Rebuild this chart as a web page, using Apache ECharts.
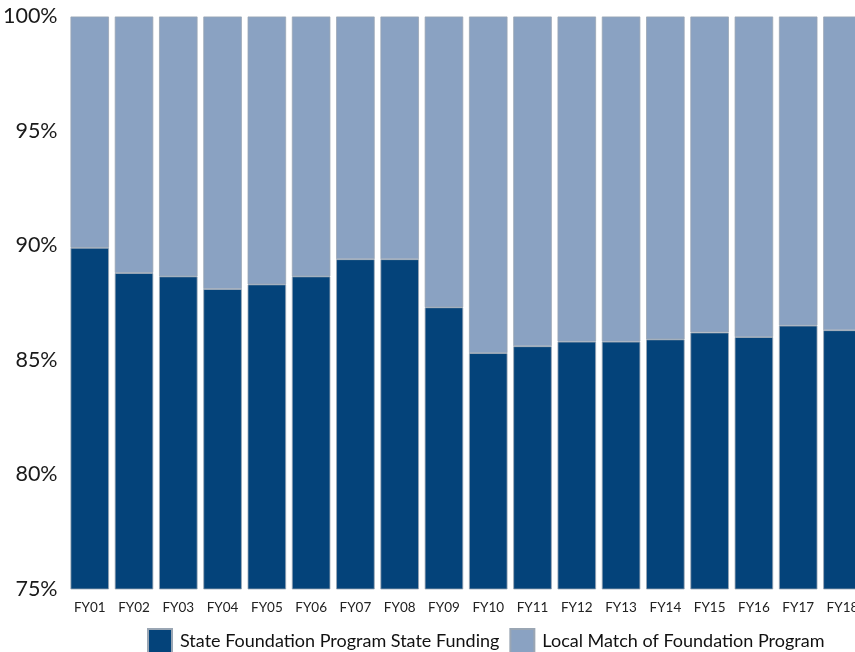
<!DOCTYPE html>
<html>
<head>
<meta charset="utf-8">
<script src="https://cdn.jsdelivr.net/npm/echarts@6/dist/echarts.min.js"></script>
<style>
html,body{margin:0;padding:0;background:#fff;}
#chart{width:855px;height:652px;}
</style>
</head>
<body>
<div id="chart"></div>
<script>
const categories = ['FY01','FY02','FY03','FY04','FY05','FY06','FY07','FY08','FY09','FY10','FY11','FY12','FY13','FY14','FY15','FY16','FY17','FY18'];
const stateFunding = [89.9, 88.8, 88.65, 88.1, 88.3, 88.65, 89.4, 89.4, 87.3, 85.3, 85.6, 85.8, 85.8, 85.9, 86.2, 86.0, 86.5, 86.3];
const localMatch   = [10.1, 11.2, 11.35, 11.9, 11.7, 11.35, 10.6, 10.6, 12.7, 14.7, 14.4, 14.2, 14.2, 14.1, 13.8, 14.0, 13.5, 13.7];
const seriesNames = ['State Foundation Program State Funding', 'Local Match of Foundation Program'];

const chart = echarts.init(document.getElementById('chart'));
chart.setOption({
  animation: false,
  backgroundColor: '#ffffff',
  grid: { left: 67.6, width: 797, top: 16.5, bottom: 63, containLabel: false, outerBoundsMode: 'none' },
  legend: {
    left: 142, top: 623,
    itemWidth: 24, itemHeight: 24, itemGap: 10,
    icon: 'rect',
    textStyle: { fontFamily: 'Lato', fontSize: 18, color: '#111', padding: [0,0,0,3] },
    data: seriesNames
  },
  xAxis: {
    type: 'category',
    data: categories,
    axisLine: { show: false },
    axisTick: { show: false },
    axisLabel: { fontFamily: 'Lato', fontSize: 13.5, color: '#222', margin: 12 }
  },
  yAxis: {
    type: 'value',
    min: 75, max: 100, interval: 5,
    axisLine: { show: false },
    axisTick: { show: false },
    splitLine: { show: false },
    axisLabel: { formatter: '{value}%', fontFamily: 'Lato', fontSize: 21.5, color: '#1a1a1a', margin: 10 }
  },
  series: [
    {
      name: seriesNames[0], type: 'bar', stack: 'total', clip: true,
      data: stateFunding, barWidth: 38.5,
      itemStyle: { color: '#04437A', borderColor: '#9aa6b4', borderWidth: 0.8 }
    },
    {
      name: seriesNames[1], type: 'bar', stack: 'total', clip: true,
      data: localMatch, barWidth: 38.5,
      itemStyle: { color: '#8AA2C2', borderColor: '#9aa6b4', borderWidth: 0.8 }
    }
  ]
});
</script>
</body>
</html>
